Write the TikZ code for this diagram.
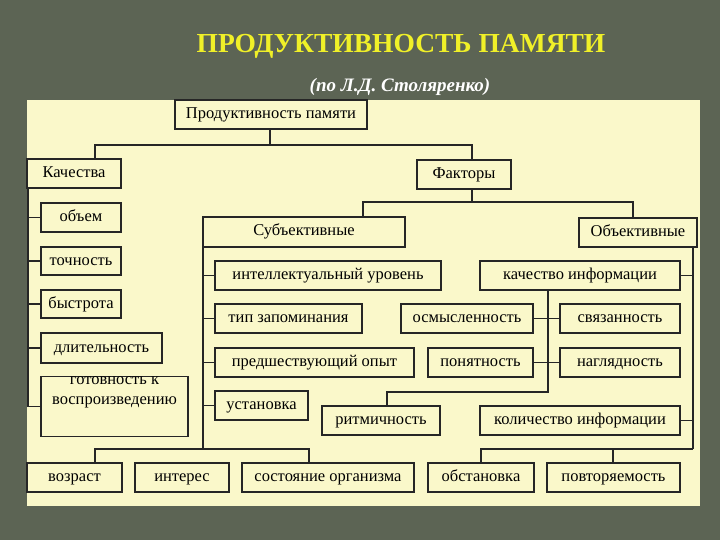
\documentclass[tikz,border=0pt]{standalone}
\usepackage{fontspec}
\setmainfont{Liberation Serif}
\definecolor{bgc}{RGB}{92,100,84}
\definecolor{panel}{RGB}{250,248,202}
\definecolor{ttl}{RGB}{240,240,40}
\tikzset{box/.style={draw=black!85,line width=1.6pt,inner sep=0pt,font=\fontsize{16.5}{19}\selectfont,align=center,text height=11pt,text depth=3pt},
 ln/.style={draw=black!85,line width=1.6pt}}
\newcommand{\bx}[6]{\node[box,minimum width={(#4-#2)*1pt},minimum height={(#5-#3)*1pt}] (#1) at ({(#2+#4)/2*1pt},{-(#3+#5)/2*1pt}) {#6};}
\begin{document}
\begin{tikzpicture}[x=1pt,y=1pt]
\fill[bgc] (0,0) rectangle (720,-540);
\useasboundingbox (0,0) rectangle (720,-540);
\fill[panel] (27,-100) rectangle (700,-506);
\node[font=\bfseries\fontsize{27.5}{30}\selectfont,text=ttl] (t) at (401,-46) {ПРОДУКТИВНОСТЬ ПАМЯТИ};
\node[font=\bfseries\itshape\fontsize{19}{21}\selectfont,text=white] (st) at (400,-87) {(по Л.Д. Столяренко)};
\bx{prod}{175}{100}{367}{129}{Продуктивность памяти}
\bx{kach}{27}{159}{121}{188}{Качества}
\bx{ob}{41}{203}{121}{232}{объем}
\bx{to}{41}{247}{121}{275}{точность}
\bx{by}{41}{290}{121}{318}{быстрота}
\bx{dl}{41}{333}{162}{363}{длительность}
\node[box,text height=,text depth=,minimum width=147pt,minimum height=59pt,font=\fontsize{16.5}{20}\selectfont] (go) at (114.5,-406.5) {готовность к\\воспроизведению\\[12pt]};
\bx{fak}{417}{160}{511}{189}{Факторы}
\bx{sub}{203}{217}{405}{247}{Субъективные}
\bx{obj}{579}{218}{697}{247}{Объективные}
\bx{int}{215}{261}{441}{290}{интеллектуальный уровень}
\bx{tip}{215}{304}{362}{333}{тип запоминания}
\bx{pre}{215}{348}{414}{377}{предшествующий опыт}
\bx{ust}{215}{391}{308}{420}{установка}
\bx{ki}{480}{261}{680}{290}{качество информации}
\bx{osm}{401}{304}{533}{333}{осмысленность}
\bx{sv}{560}{304}{680}{333}{связанность}
\bx{pon}{428}{348}{533}{377}{понятность}
\bx{nag}{560}{348}{680}{377}{наглядность}
\bx{rit}{322}{406}{440}{435}{ритмичность}
\bx{kol}{480}{406}{680}{435}{количество информации}
\bx{voz}{27}{463}{122}{492}{возраст}
\bx{inr}{135}{463}{229}{492}{интерес}
\bx{sos}{242}{463}{414}{492}{состояние организма}
\bx{obs}{428}{463}{534}{492}{обстановка}
\bx{pov}{547}{463}{680}{492}{повторяемость}
% top tree
\draw[ln] (prod.south -| 270,0) -- (270,-145) -| (kach.north -| 95,0);
\draw[ln] (270,-145) -| (fak.north -| 472,0);
\draw[ln] (fak.south -| 472,0) -- (472,-202) -| (sub.north -| 363,0);
\draw[ln] (472,-202) -| (obj.north -| 633,0);
% qualities
\draw[ln] (kach.south -| 28,0) -- (28,-407);
\foreach \n in {ob,to,by,dl,go} \draw[ln] (\n.west) -- (\n.west -| 28,0);
% subjective
\draw[ln] (sub.south -| 203,0) -- (203,-449);
\foreach \n in {int,tip,pre,ust} \draw[ln] (\n.west) -- (\n.west -| 203,0);
\draw[ln] (voz.north -| 95,0) -- (95,-449) -- (309,-449) -- (sos.north -| 309,0);
% objective
\draw[ln] (obj.south -| 693,0) -- (693,-449);
\foreach \n in {ki,kol} \draw[ln] (\n.east) -- (\n.east -| 693,0);
\draw[ln] (obs.north -| 481,0) -- (481,-449) -- (693,-449);
\draw[ln] (pov.north -| 613,0) -- (613,-449);
\draw[ln] (ki.south -| 548,0) -- (548,-392) -- (387,-392) -- (rit.north -| 387,0);
\draw[ln] (osm.east) -- (sv.west);
\draw[ln] (pon.east) -- (nag.west);
\end{tikzpicture}
\end{document}
